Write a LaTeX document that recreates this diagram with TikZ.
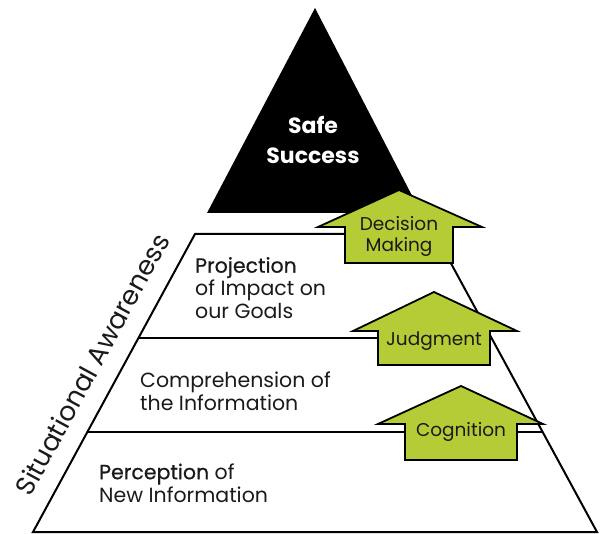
\documentclass[tikz,border=0pt]{standalone}
\usepackage{fontspec}
\setmainfont{Poppins}
\newfontfamily\medfont{Poppins}[FakeBold=0.6]
\definecolor{sagegreen}{HTML}{B5CC36}
\definecolor{inktext}{HTML}{1A1A1A}
\begin{document}
\begin{tikzpicture}[x=1pt,y=-1pt,
  bandline/.style={line width=2pt, line join=miter},
  uparrow/.style={fill=sagegreen, draw=black, line width=1.8pt, line join=miter},
  arrowtext/.style={font=\fontsize{18.5}{21}\selectfont, text=inktext, align=center, inner sep=0pt},
  bandtext/.style={font=\fontsize{20.5}{23}\selectfont, text=inktext, align=left, inner sep=0pt, anchor=west},
 ]
\useasboundingbox (0,0) rectangle (602,534);
% top triangle
\fill[black] (315,8) -- (421,213) -- (207,213) -- cycle;
\node[font=\bfseries\fontsize{22}{30}\selectfont, text=white, align=center, inner sep=0pt] (safe) at (313,140) {Safe\\Success};
% pyramid bands
\draw[bandline] (195,234) -- (435,234) -- (597,532) -- (33,532) -- cycle;
\draw[bandline] (138.5,338) -- (491.5,338);
\draw[bandline] (87.4,432) -- (542.6,432);
% band texts
\node[bandtext] (proj) at (195,288) {{\medfont Projection}\\of Impact on\\our Goals};
\node[bandtext] (comp) at (140,391) {Comprehension of\\the Information};
\node[bandtext] (perc) at (99,483) {{\medfont Perception} of\\New Information};
\node[font=\fontsize{26.5}{30}\selectfont, text=inktext, rotate=61.5, inner sep=0pt] (sa) at (92,364) {Situational Awareness};
% arrows
\draw[uparrow] (399,190) -- (482,227) -- (453,227) -- (453,263) -- (345,263) -- (345,227) -- (318,227) -- cycle;
\node[arrowtext] (dm) at (399,236) {Decision\\Making};
\draw[uparrow] (434,292) -- (517,331) -- (490,331) -- (490,365) -- (378,365) -- (378,331) -- (353,331) -- cycle;
\node[arrowtext] (jd) at (434,341) {Judgment};
\draw[uparrow] (461,386) -- (543,424) -- (517,424) -- (517,460) -- (405,460) -- (405,424) -- (378,424) -- cycle;
\node[arrowtext] (cg) at (461,432) {Cognition};
\end{tikzpicture}
\end{document}
